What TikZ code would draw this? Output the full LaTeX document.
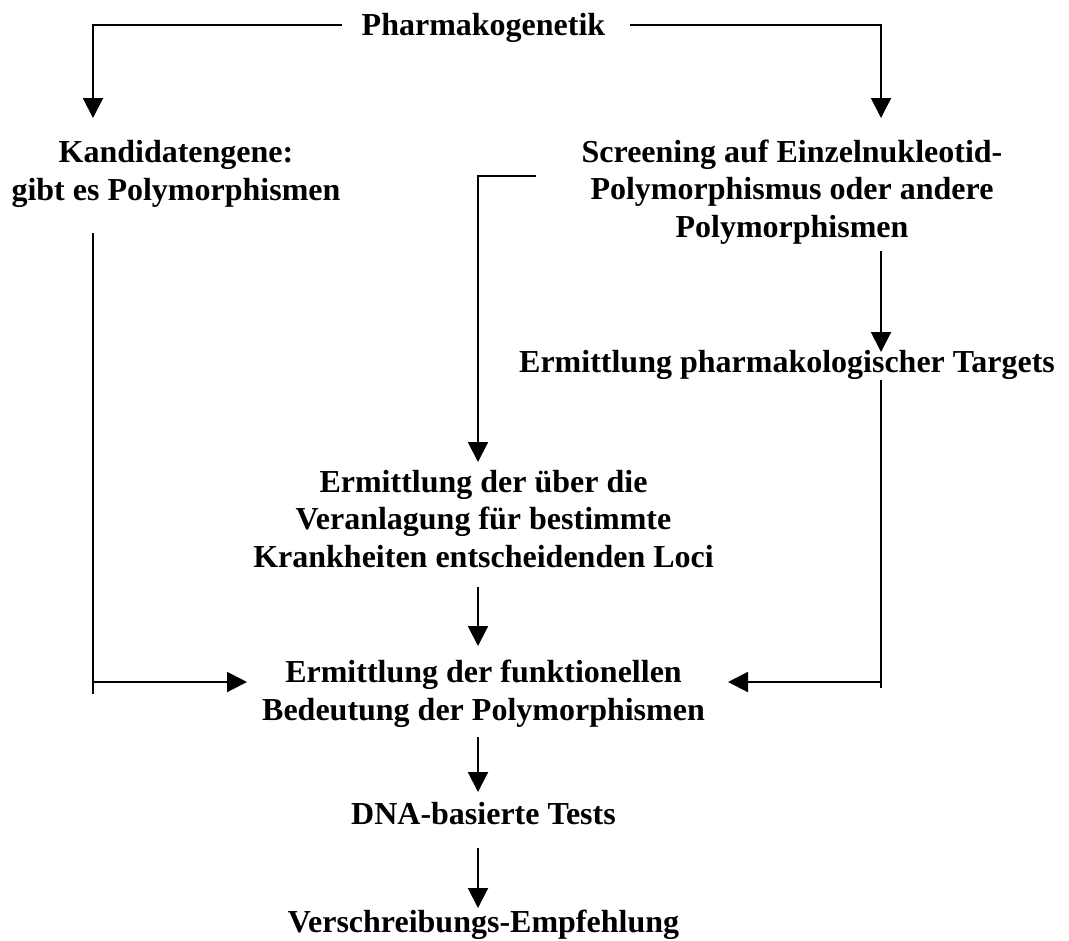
\documentclass[tikz,border=0pt]{standalone}
\usepackage{fontspec}
\setmainfont{Liberation Serif}
\usetikzlibrary{arrows.meta}
\begin{document}
\begin{tikzpicture}[x=0.75pt,y=-0.75pt,
  lbl/.style={anchor=base,inner sep=0pt,align=center,font=\bfseries\fontsize{24}{28.1}\selectfont},
  conn/.style={line width=1.5pt},
  arr/.style={conn,-{Triangle[length=15pt,width=15pt]}}]
\useasboundingbox[fill=white] (0,0) rectangle (1069,940);
% texts (base anchor = baseline of the last line)
\node[lbl] (pharm) at (483.5,35.5) {Pharmakogenetik};
\node[lbl] (kand) at (176,200) {Kandidatengene:\\gibt es Polymorphismen};
\node[lbl] (screen) at (792,237) {Screening auf Einzelnukleotid-\\Polymorphismus oder andere\\Polymorphismen};
\node[lbl] (targ) at (787,372) {Ermittlung pharmakologischer Targets};
\node[lbl] (veran) at (483.5,567) {Ermittlung der über die\\Veranlagung für bestimmte\\Krankheiten entscheidenden Loci};
\node[lbl] (funk) at (483.5,720) {Ermittlung der funktionellen\\Bedeutung der Polymorphismen};
\node[lbl] (dna) at (483.5,824) {DNA-basierte Tests};
\node[lbl] (vers) at (483.5,932) {Verschreibungs-Empfehlung};
% connector points
\coordinate (pL) at (342,25);
\coordinate (pR) at (630,25);
\coordinate (kT) at (93,118);
\coordinate (sT) at (881,118);
\coordinate (sB) at (536,176);
\coordinate (vT) at (478,462);
\coordinate (sD) at (881,251);
\coordinate (tT) at (881,352);
\coordinate (kB) at (93,233);
\coordinate (kE) at (93,694);
\coordinate (fL) at (247,682);
\coordinate (tB) at (881,380);
\coordinate (tE) at (881,688);
\coordinate (fR) at (728,682);
\coordinate (v1) at (478,587);
\coordinate (f1) at (478,646);
\coordinate (f2) at (478,737);
\coordinate (d1) at (478,792);
\coordinate (d2) at (478,848);
\coordinate (e1) at (478,908);
% connectors
\draw[arr] (pL) -| (kT);
\draw[arr] (pR) -| (sT);
\draw[arr] (sB) -| (vT);
\draw[arr] (sD) -- (tT);
\draw[conn] (kB) -- (kE);
\draw[arr] (kB |- fL) -- (fL);
\draw[conn] (tB) -- (tE);
\draw[arr] (tB |- fR) -- (fR);
\draw[arr] (v1) -- (f1);
\draw[arr] (f2) -- (d1);
\draw[arr] (d2) -- (e1);
\end{tikzpicture}
\end{document}
